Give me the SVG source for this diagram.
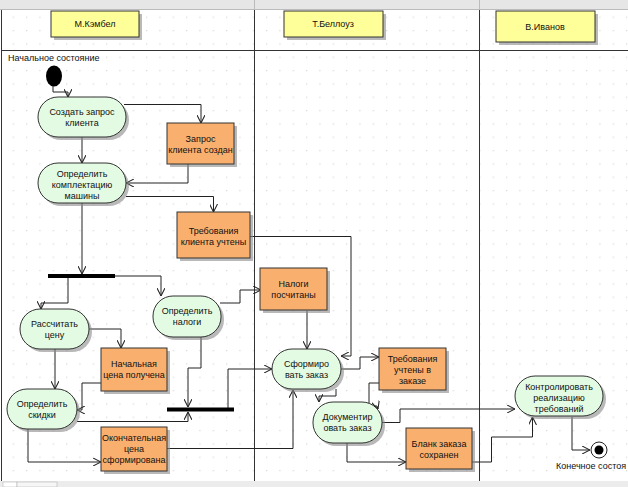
<svg xmlns="http://www.w3.org/2000/svg" width="628" height="487" viewBox="0 0 628 487">
<style>
text{font-family:"Liberation Sans",Arial,sans-serif;font-size:9px;fill:#111;text-anchor:middle}
.act{fill:#e3fbe3;stroke:#333;stroke-width:1}
.obj{fill:#f9b06f;stroke:#333;stroke-width:1}
.hdr{fill:#ffff99;stroke:#333;stroke-width:1}
.sh{fill:#8a8a8a;opacity:0.6}
.c{fill:none;stroke:#222;stroke-width:1;marker-end:url(#a)}
.lane{stroke:#333;stroke-width:1;fill:none}
</style>
<defs>
<pattern id="g" x="-0.67" y="3.33" width="13.333" height="13.333" patternUnits="userSpaceOnUse">
<rect x="0.2" y="0.2" width="1" height="1" fill="#c4c4c4"/>
</pattern>
<marker id="a" viewBox="0 0 10 10" refX="10" refY="5" markerWidth="8" markerHeight="8" orient="auto" markerUnits="userSpaceOnUse">
<path d="M0,0 L10,5 L0,10" fill="none" stroke="#222" stroke-width="1.3"/>
</marker>
</defs>
<rect width="628" height="487" fill="#fff"/>
<rect x="2" y="10" width="626" height="471" fill="url(#g)"/>
<rect x="0" y="0" width="628" height="9" fill="#e6e6e6"/>
<line x1="0" y1="9.5" x2="628" y2="9.5" stroke="#bbb"/>
<line x1="254.5" y1="0" x2="254.5" y2="9" stroke="#bbb"/>
<line x1="479.5" y1="0" x2="479.5" y2="9" stroke="#bbb"/>
<rect x="0" y="481" width="628" height="6" fill="#ececec"/>
<rect x="3" y="482" width="14" height="5" fill="#fff" stroke="#aaa" stroke-width="0.5"/>
<rect x="17" y="482" width="40" height="5" fill="#f6f6f6" stroke="#aaa" stroke-width="0.5"/>
<g id="lanes">
<line class="lane" x1="1.5" y1="10" x2="1.5" y2="481"/>
<line class="lane" x1="254.5" y1="10" x2="254.5" y2="481"/>
<line class="lane" x1="479.5" y1="10" x2="479.5" y2="481"/>
<line class="lane" x1="1" y1="50.5" x2="628" y2="50.5"/>
</g>
<g id="lane-kembel"><rect class="sh" x="54" y="14" width="88" height="26"/><rect class="hdr" x="51" y="11" width="88" height="26"/><text x="95" y="27">М.Кэмбел</text></g>
<g id="lane-bellouz"><rect class="sh" x="287" y="14" width="99" height="26"/><rect class="hdr" x="284" y="11" width="99" height="26"/><text x="333" y="27">Т.Беллоуз</text></g>
<g id="lane-ivanov"><rect class="sh" x="499" y="14" width="99" height="31"/><rect class="hdr" x="496" y="11" width="99" height="31"/><text x="545" y="30">В.Иванов</text></g>

<g id="connectors">
<path class="c" d="M53,86 V92 H68 V97"/>
<path class="c" d="M124,104.5 H201 V123"/>
<path class="c" d="M82,137 V163"/>
<path class="c" d="M188,164 V183 H126"/>
<path class="c" d="M126,196.5 H213.5 V212"/>
<path class="c" d="M82,203 V274"/>
<path class="c" d="M250,236.5 H351 V356 H341"/>
<path class="c" d="M68,278 V303 H41 V309"/>
<path class="c" d="M115,276 H161 V296"/>
<path class="c" d="M89,329 H121 V348"/>
<path class="c" d="M55,349 V389"/>
<path class="c" d="M107,391 V383 H82 V410 H77"/>
<path class="c" d="M220,303 H240 V290 H261"/>
<path class="c" d="M201,337 V368 H188 V407"/>
<path class="c" d="M77,421.5 H188 V412"/>
<path class="c" d="M228,408 V369 H272"/>
<path class="c" d="M28,429 V462 H101"/>
<path class="c" d="M167,448.5 H293 V390"/>
<path class="c" d="M307,311 V349"/>
<path class="c" d="M341,369 H360 V357 H379"/>
<path class="c" d="M336,389 V396 H319 V402"/>
<path class="c" d="M379,383 H369 V406 H377 L378,409"/>
<path class="c" d="M382,422.5 H400 V409 H515"/>
<path class="c" d="M347,443 V462 H406"/>
<path class="c" d="M472,462 H491.5 V437 H532.5 V417"/>
<path class="c" d="M572,417 V450 H590"/>
</g>

<g id="start"><ellipse cx="54" cy="76" rx="8" ry="10.5" fill="#000"/><text x="8" y="61" style="text-anchor:start">Начальное состояние</text></g>

<g id="n-create"><rect class="sh" x="41" y="100" width="88" height="40" rx="20"/><rect class="act" x="38" y="97" width="88" height="40" rx="20"/><text x="82" y="115">Создать запрос</text><text x="82" y="126">клиента</text></g>
<g id="o-request"><rect class="sh" x="170" y="126" width="67" height="41"/><rect class="obj" x="167" y="123" width="67" height="41"/><text x="200.5" y="142">Запрос</text><text x="200.5" y="153">клиента создан</text></g>
<g id="n-config"><rect class="sh" x="41" y="166" width="88" height="40" rx="20"/><rect class="act" x="38" y="163" width="88" height="40" rx="20"/><text x="82" y="177">Определить</text><text x="82" y="188">комплектацию</text><text x="82" y="199">машины</text></g>
<g id="o-req-client"><rect class="sh" x="180" y="215" width="73" height="46"/><rect class="obj" x="177" y="212" width="73" height="46"/><text x="213.5" y="234">Требования</text><text x="213.5" y="245">клиента учтены</text></g>
<g id="fork"><rect x="48" y="274" width="67" height="4" fill="#000"/></g>
<g id="n-price"><rect class="sh" x="23" y="312" width="69" height="40" rx="20"/><rect class="act" x="20" y="309" width="69" height="40" rx="20"/><text x="54.5" y="327">Рассчитать</text><text x="54.5" y="338">цену</text></g>
<g id="n-taxes"><rect class="sh" x="156" y="299" width="68" height="41" rx="20"/><rect class="act" x="153" y="296" width="68" height="41" rx="20"/><text x="187" y="314">Определить</text><text x="187" y="325">налоги</text></g>
<g id="o-initprice"><rect class="sh" x="104" y="351" width="66" height="43"/><rect class="obj" x="101" y="348" width="66" height="43"/><text x="134" y="367">Начальная</text><text x="134" y="378">цена получена</text></g>
<g id="n-discount"><rect class="sh" x="10" y="392" width="70" height="40" rx="20"/><rect class="act" x="7" y="389" width="70" height="40" rx="20"/><text x="42" y="407">Определить</text><text x="42" y="418">скидки</text></g>
<g id="join"><rect x="167" y="407.5" width="67" height="4" fill="#000"/></g>
<g id="o-finalprice"><rect class="sh" x="104" y="430" width="66" height="44"/><rect class="obj" x="101" y="427" width="66" height="44"/><text x="134" y="441">Окончательная</text><text x="134" y="452">цена</text><text x="134" y="463">сформирована</text></g>
<g id="o-taxesdone"><rect class="sh" x="263" y="271" width="67" height="42"/><rect class="obj" x="260" y="268" width="67" height="42"/><text x="293.5" y="287">Налоги</text><text x="293.5" y="298">посчитаны</text></g>
<g id="n-order"><rect class="sh" x="275" y="352" width="69" height="40" rx="20"/><rect class="act" x="272" y="349" width="69" height="40" rx="20"/><text x="306.5" y="367">Сформиро</text><text x="306.5" y="378">вать заказ</text></g>
<g id="o-reqorder"><rect class="sh" x="382" y="351" width="67" height="42"/><rect class="obj" x="379" y="348" width="67" height="42"/><text x="412.5" y="362">Требования</text><text x="412.5" y="373">учтены в</text><text x="412.5" y="384">заказе</text></g>
<g id="n-document"><rect class="sh" x="316" y="405" width="69" height="41" rx="20"/><rect class="act" x="313" y="402" width="69" height="41" rx="20"/><text x="347.5" y="420">Документир</text><text x="347.5" y="431">овать заказ</text></g>
<g id="o-blank"><rect class="sh" x="409" y="431" width="66" height="41"/><rect class="obj" x="406" y="428" width="66" height="41"/><text x="439" y="447">Бланк заказа</text><text x="439" y="458">сохранен</text></g>
<g id="n-control"><rect class="sh" x="518" y="379" width="88" height="40" rx="20"/><rect class="act" x="515" y="376" width="88" height="40" rx="20"/><text x="559" y="390">Контролировать</text><text x="559" y="401">реализацию</text><text x="559" y="412">требований</text></g>
<g id="end"><circle cx="599" cy="450" r="8" fill="#fff" stroke="#222" stroke-width="1"/><circle cx="599" cy="450" r="4.5" fill="#000"/><text x="556" y="469" style="text-anchor:start">Конечное состоя</text></g>
</svg>
